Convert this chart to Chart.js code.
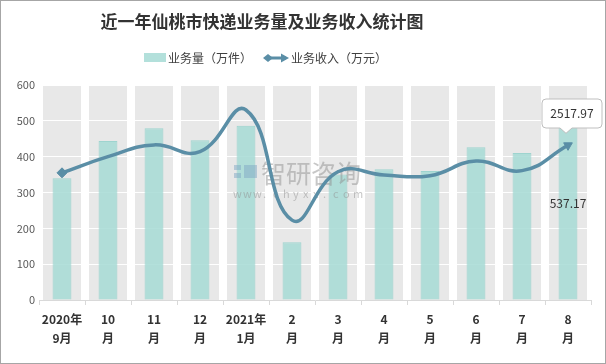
<!DOCTYPE html>
<html>
<head>
<meta charset="utf-8">
<script src="https://cdn.jsdelivr.net/npm/chart.js@4"></script>
<style>
  html, body { margin: 0; padding: 0; background: #fff; }
  #wrap { width: 606px; height: 364px; }
</style>
</head>
<body>
<div id="wrap"><canvas id="chart" width="606" height="364"></canvas></div>
<script>
const categories = [['2020年', '9月'], ['10', '月'], ['11', '月'], ['12', '月'], ['2021年', '1月'], ['2', '月'],
  ['3', '月'], ['4', '月'], ['5', '月'], ['6', '月'], ['7', '月'], ['8', '月']];
const volume = [340, 444, 479, 446, 486, 161, 350, 365, 360, 426, 410, 537.17];   // 业务量（万件）
const revenue = [2070, 2333, 2525, 2415, 3093, 1300, 2088, 2035, 2024, 2263, 2106, 2517.97]; // 业务收入（万元）
const yTicks = [0, 100, 200, 300, 400, 500, 600];

const FONT = '"Noto Sans CJK SC", "Noto Sans", sans-serif';
const BAR = 'rgba(166, 218, 213, 0.85)';
const LINE = '#5a8ea6';
const last = categories.length - 1;

// grey column bands behind each category
const bandsPlugin = {
  id: 'bands',
  beforeDraw(chart) {
    const { ctx, chartArea, scales } = chart;
    ctx.save();
    ctx.fillStyle = '#e8e8e8';
    categories.forEach((c, i) => {
      const x = scales.x.getPixelForValue(i);
      ctx.fillRect(x - 19, chartArea.top, 38, chartArea.bottom - chartArea.top);
    });
    ctx.restore();
  }
};

// faint watermark between the bars and the line
const watermarkPlugin = {
  id: 'watermark',
  afterDatasetDraw(chart, args) {
    if (args.index !== 0) return;
    const ctx = chart.ctx;
    ctx.save();
    ctx.globalAlpha = 0.5;
    ctx.fillStyle = '#7fa7c4';
    ctx.fillRect(234, 165, 7, 5);
    ctx.fillRect(234, 173, 7, 5);
    ctx.fillRect(244, 165, 13, 13);
    ctx.fillStyle = '#8f8f8f';
    ctx.font = '25px ' + FONT;
    ctx.textBaseline = 'middle';
    ctx.fillText('智研咨询', 261, 173);
    ctx.font = '11px ' + FONT;
    const site = 'www.chyxx.com';
    for (let i = 0; i < site.length; i++) {
      ctx.fillText(site[i], 233 + i * 10, 194);
    }
    ctx.restore();
  }
};

// title, legend, data labels and frame
const decorPlugin = {
  id: 'decor',
  afterDraw(chart) {
    const { ctx } = chart;
    ctx.save();
    ctx.fillStyle = '#333';
    ctx.font = 'bold 17px ' + FONT;
    ctx.textAlign = 'center';
    ctx.textBaseline = 'middle';
    ctx.fillText('近一年仙桃市快递业务量及业务收入统计图', 262, 22);

    // legend
    ctx.fillStyle = BAR;
    ctx.fillRect(144, 53, 22, 9);
    ctx.font = '12px ' + FONT;
    ctx.textAlign = 'left';
    ctx.fillStyle = '#404040';
    ctx.fillText('业务量（万件）', 168, 58);
    ctx.strokeStyle = LINE;
    ctx.lineWidth = 3;
    ctx.beginPath(); ctx.moveTo(266, 58); ctx.lineTo(286, 58); ctx.stroke();
    ctx.fillStyle = LINE;
    ctx.beginPath(); ctx.moveTo(263, 58); ctx.lineTo(268, 54); ctx.lineTo(273, 58); ctx.lineTo(268, 62); ctx.closePath(); ctx.fill();
    ctx.beginPath(); ctx.moveTo(289, 58); ctx.lineTo(281, 53.5); ctx.lineTo(281, 62.5); ctx.closePath(); ctx.fill();
    ctx.fillStyle = '#404040';
    ctx.fillText('业务收入（万元）', 291, 58);

    // bar label of last month, centred in the bar
    const bar = chart.getDatasetMeta(0).data[last];
    ctx.textAlign = 'center';
    ctx.fillStyle = '#333';
    ctx.font = '12px ' + FONT;
    ctx.fillText(volume[last].toFixed(2), bar.x, (bar.y + bar.base) / 2);

    // callout for last revenue point
    const pt = chart.getDatasetMeta(1).data[last];
    const bx = 542, by = 99, bw = 60, bh = 29;
    ctx.beginPath();
    ctx.moveTo(bx + 4, by);
    ctx.lineTo(bx + bw - 4, by);
    ctx.quadraticCurveTo(bx + bw, by, bx + bw, by + 4);
    ctx.lineTo(bx + bw, by + bh - 4);
    ctx.quadraticCurveTo(bx + bw, by + bh, bx + bw - 4, by + bh);
    ctx.lineTo(bx + 30, by + bh);
    ctx.lineTo(pt.x - 2, pt.y - 12);
    ctx.lineTo(bx + 18, by + bh);
    ctx.lineTo(bx + 4, by + bh);
    ctx.quadraticCurveTo(bx, by + bh, bx, by + bh - 4);
    ctx.lineTo(bx, by + 4);
    ctx.quadraticCurveTo(bx, by, bx + 4, by);
    ctx.closePath();
    ctx.fillStyle = '#fff';
    ctx.fill();
    ctx.strokeStyle = '#bfbfbf';
    ctx.lineWidth = 1;
    ctx.stroke();
    ctx.fillStyle = '#333';
    ctx.fillText(revenue[last].toFixed(2), bx + bw / 2, by + bh / 2);

    // outer frame
    ctx.strokeStyle = '#a6a6a6';
    ctx.strokeRect(0.5, 0.5, 605, 363);
    ctx.restore();
  }
};

new Chart(document.getElementById('chart'), {
  data: {
    labels: categories,
    datasets: [
      {
        type: 'bar',
        label: '业务量（万件）',
        data: volume,
        yAxisID: 'y',
        backgroundColor: BAR,
        borderColor: 'rgba(150, 210, 204, 0.9)',
        borderWidth: 1,
        barPercentage: 0.41,
        categoryPercentage: 1,
        order: 2
      },
      {
        type: 'line',
        label: '业务收入（万元）',
        data: revenue,
        yAxisID: 'y2',
        borderColor: LINE,
        borderWidth: 3.5,
        tension: 0.45,
        fill: false,
        pointStyle: revenue.map((v, i) => i === 0 ? 'rectRot' : 'triangle'),
        pointRadius: revenue.map((v, i) => (i === 0 || i === last) ? 5 : 0),
        pointRotation: revenue.map((v, i) => i === last ? 60 : 0),
        pointBackgroundColor: LINE,
        pointBorderColor: LINE,
        pointBorderWidth: 1,
        order: 1
      }
    ]
  },
  options: {
    responsive: false,
    animation: false,
    layout: { padding: { top: 85, right: 15, bottom: 0, left: 0 } },
    plugins: {
      legend: { display: false },
      title: { display: false },
      tooltip: { enabled: false }
    },
    scales: {
      x: {
        offset: true,
        afterFit: s => { s.height = 64; },
        grid: { offset: true, drawOnChartArea: false, drawTicks: true, tickLength: 5, color: '#d9d9d9' },
        border: { color: '#d9d9d9' },
        ticks: {
          color: '#333',
          font: { family: FONT, size: 12, weight: 'bold', lineHeight: 1.6 },
          padding: 5,
          maxRotation: 0,
          autoSkip: false
        }
      },
      y: {
        min: 0,
        max: 600,
        afterFit: s => { s.width = 39; },
        afterBuildTicks: s => { s.ticks = yTicks.map(v => ({ value: v })); },
        grid: { color: '#ffffff', lineWidth: 1, drawTicks: false },
        border: { display: false },
        ticks: { color: '#595959', font: { family: FONT, size: 11 }, padding: 4 }
      },
      y2: {
        display: false,
        min: 0,
        max: 3500
      }
    }
  },
  plugins: [bandsPlugin, watermarkPlugin, decorPlugin]
});
</script>
</body>
</html>
